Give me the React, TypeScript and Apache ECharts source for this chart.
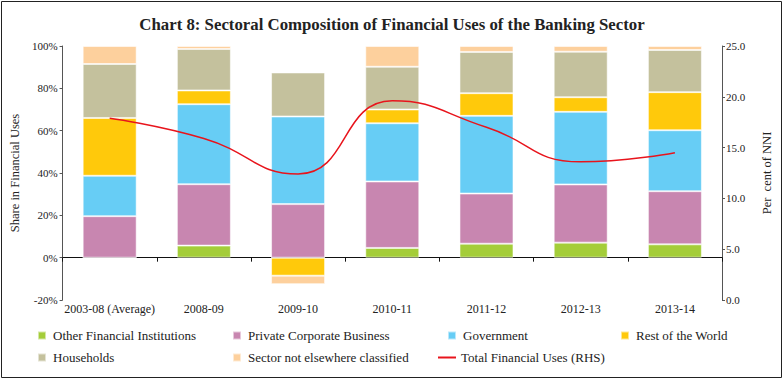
import React, { useEffect, useRef } from "react";
import * as echarts from "echarts";

const categories = ["2003-08 (Average)", "2008-09", "2009-10", "2010-11", "2011-12", "2012-13", "2013-14"];
const otherFinancial = [0, 5.7, 0, 4.6, 6.6, 7.1, 6.3];
const privateCorporate = [19.6, 29.0, 25.3, 31.4, 23.7, 27.5, 25.1];
const government = [19.1, 37.8, 41.4, 27.5, 36.7, 34.3, 28.8];
const restOfWorld = [27.3, 6.5, -8.5, 6.5, 10.7, 6.9, 18.0];
const households = [25.5, 19.6, 20.8, 20.2, 19.5, 21.5, 19.9];
const notClassified = [8.5, 1.4, -4.0, 9.8, 2.8, 2.7, 1.9];
const totalUses = [17.9, 15.9, 12.4, 19.6, 17.0, 13.6, 14.5];

const leftTicks = { min: -20, max: 100, interval: 20 };
const rightTicks = { min: 0, max: 25, interval: 5 };

const FONT = "Liberation Serif";

export default function App() {
  const ref = useRef<HTMLDivElement>(null);
  useEffect(() => {
    const chart = echarts.init(ref.current!, null, { renderer: "svg" });
    const barNames = [
      ["Other Financial Institutions", otherFinancial, "#a4cd39"],
      ["Private Corporate Business", privateCorporate, "#c886b0"],
      ["Government", government, "#67cdf5"],
      ["Rest of the World", restOfWorld, "#ffc90b"],
      ["Households", households, "#c4c19d"],
      ["Sector not elsewhere classified", notClassified, "#fdd09d"],
    ] as const;
    const barSeries = barNames.map(([name, data, color]) => ({
      name,
      type: "bar",
      stack: "share",
      data: data as number[],
      barWidth: 54,
      itemStyle: { color, borderColor: "rgba(255,255,255,0.55)", borderWidth: 1 },
      emphasis: { disabled: true },
    }));
    const legendPos: [string, number, number][] = [
      ["Other Financial Institutions", 37, 329],
      ["Private Corporate Business", 232, 329],
      ["Government", 447, 329],
      ["Rest of the World", 620, 329],
      ["Households", 37, 351],
      ["Sector not elsewhere classified", 232, 351],
    ];
    const legends: any[] = legendPos.map(([name, left, top]) => ({
      data: [name],
      left,
      top,
      padding: 0,
      itemWidth: 8,
      itemHeight: 8,
      icon: "rect",
      textStyle: { fontFamily: FONT, fontSize: 13, color: "#222", padding: [0, 0, 0, 2] },
      selectedMode: false,
    }));
    legends.push({
      data: ["Total Financial Uses (RHS)"],
      left: 438,
      top: 351,
      padding: 0,
      itemWidth: 18,
      itemHeight: 2,
      icon: "rect",
      textStyle: { fontFamily: FONT, fontSize: 13, color: "#222", padding: [0, 0, 0, 0] },
      selectedMode: false,
    });
    chart.setOption({
      animation: false,
      textStyle: { fontFamily: FONT },
      title: {
        text: "Chart 8: Sectoral Composition of Financial Uses of the Banking Sector",
        left: "center",
        top: 11,
        textStyle: { fontFamily: FONT, fontSize: 16.8, fontWeight: "bold", color: "#222" },
      },
      graphic: [
        {
          type: "rect",
          shape: { x: 1.5, y: 1.5, width: 780, height: 376 },
          style: { fill: "none", stroke: "#222", lineWidth: 1 },
          silent: true,
        },
      ],
      legend: legends,
      grid: { left: 61, right: 62, top: 46, bottom: 80 },
      xAxis: {
        type: "category",
        data: categories,
        axisLine: { onZero: true, lineStyle: { color: "#111", width: 1 } },
        axisTick: { show: true, length: 4, lineStyle: { color: "#111" } },
        axisLabel: { interval: 0, margin: 3, fontFamily: FONT, fontSize: 12, color: "#222" },
      },
      yAxis: [
        {
          type: "value",
          ...leftTicks,
          name: "Share in Financial Uses",
          nameLocation: "middle",
          nameGap: 40,
          nameTextStyle: { fontFamily: FONT, fontSize: 12.5, color: "#222" },
          axisLine: { show: true, lineStyle: { color: "#555" } },
          axisTick: { show: true, length: 3, lineStyle: { color: "#555" } },
          axisLabel: { formatter: (v: number) => `${v}%`, fontFamily: FONT, fontSize: 11, color: "#222", margin: 5 },
          splitLine: { show: false },
        },
        {
          type: "value",
          ...rightTicks,
          name: "Per  cent of NNI",
          nameLocation: "middle",
          nameGap: 38,
          nameTextStyle: { fontFamily: FONT, fontSize: 12.5, color: "#222" },
          axisLine: { show: true, lineStyle: { color: "#555" } },
          axisTick: { show: true, length: 3, lineStyle: { color: "#555" } },
          axisLabel: { formatter: (v: number) => v.toFixed(1), fontFamily: FONT, fontSize: 11, color: "#222", margin: 4 },
          splitLine: { show: false },
        },
      ],
      series: [
        ...barSeries,
        {
          name: "Total Financial Uses (RHS)",
          type: "line",
          yAxisIndex: 1,
          data: totalUses,
          smooth: 0.5,
          showSymbol: false,
          symbol: "none",
          lineStyle: { color: "#e8141c", width: 1.5 },
          itemStyle: { color: "#e8141c" },
          z: 5,
        },
      ],
    });
    return () => chart.dispose();
  }, []);
  return <div ref={ref} style={{ position: "absolute", left: 0, top: 0, width: 784, height: 380 }} />;
}
